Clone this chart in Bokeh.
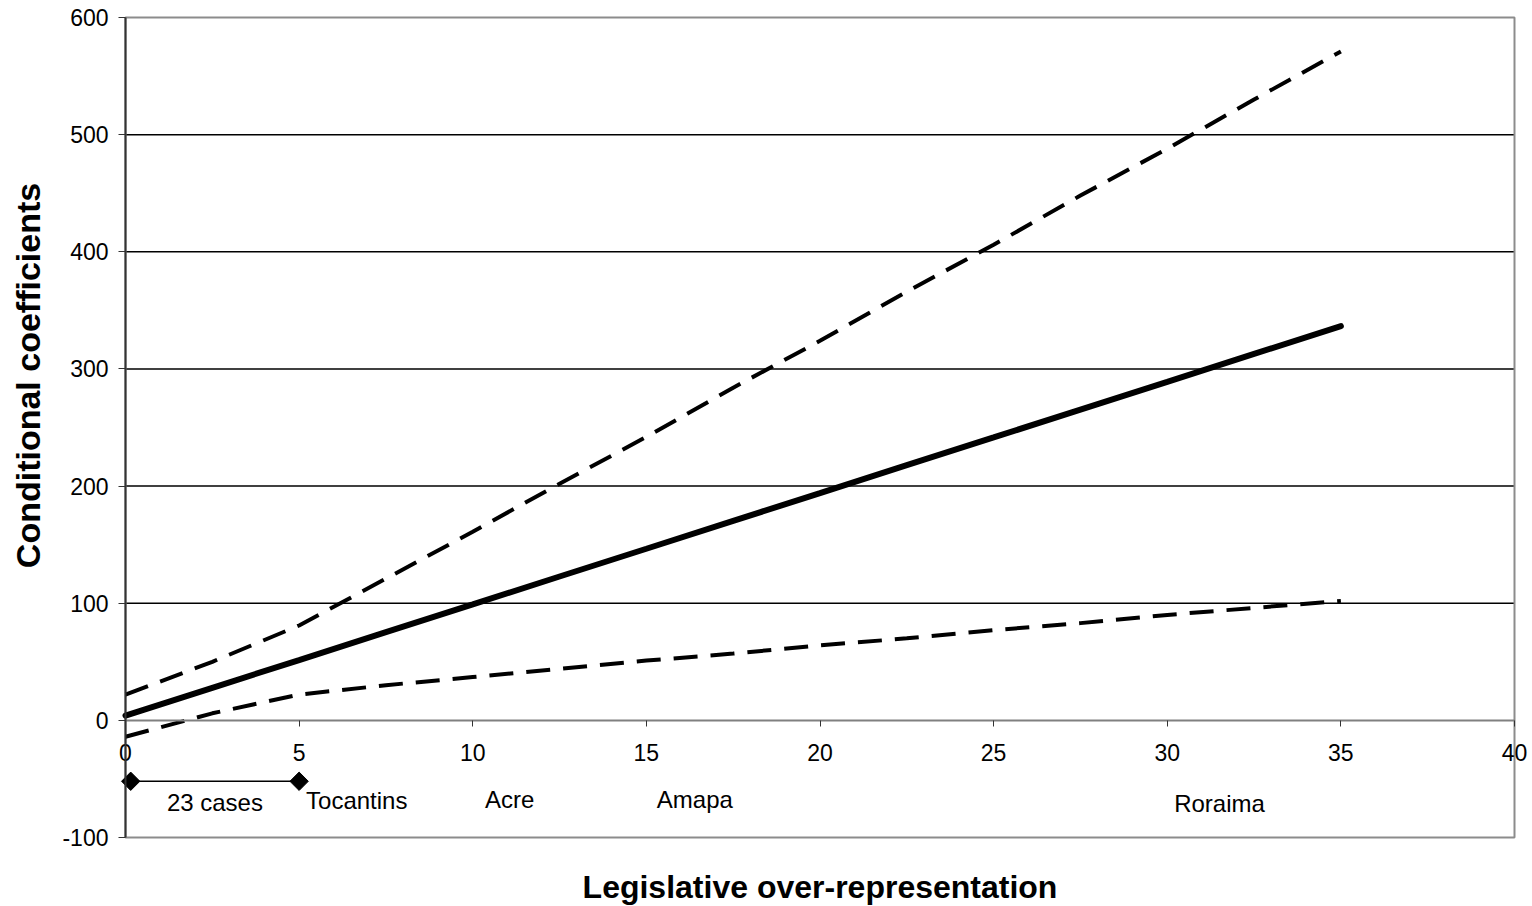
import math
from bokeh.plotting import figure
from bokeh.models import Range1d, LinearAxis, FixedTicker, PrintfTickFormatter
from bokeh.core.properties import value
from bokeh.embed import file_html
from bokeh.resources import INLINE

# Conditional coefficient of the interaction and its 95% confidence band
over_rep = [0, 2.5, 5, 7.5, 10, 12.5, 15, 17.5, 20, 22.5, 25, 27.5, 30, 32.5, 35]
coef = [4, 27.8, 51.5, 75.3, 99, 122.8, 146.5, 170.3, 194, 217.8, 241.5, 265.3, 289, 312.8, 336.5]
lower = [-14, 6, 22, 30, 37, 44, 51, 57, 64, 70, 77, 83, 90, 96, 102]
upper = [22, 50, 81, 121, 161, 202, 242, 284, 324, 366, 406, 448, 488, 530, 571]

# Range of the 23 ordinary states and the outlier states
cases_x = [0.15, 5.0]
cases_y = [-52, -52]
cases_label = "23 cases"
states = ["Tocantins", "Acre", "Amapa", "Roraima"]
states_x = [5.2, 10.35, 15.3, 30.2]
states_y = [-68, -67.5, -67.5, -71]

x_ticks = [0, 5, 10, 15, 20, 25, 30, 35, 40]
y_ticks = [-100, 0, 100, 200, 300, 400, 500, 600]
grid_ticks = [100, 200, 300, 400, 500]
X_MIN, X_MAX = 0, 40
Y_MIN, Y_MAX = -100, 600

FONT = "Liberation Sans"

# The frame covers the whole canvas so that both axes can cross inside it;
# the plotting area proper is the box [0, 40] x [-100, 600].
W, H = 1532, 906
AREA_L, AREA_R, AREA_T, AREA_B = 125, 1514, 17, 837
sx = (AREA_R - AREA_L) / (X_MAX - X_MIN)
sy = (AREA_B - AREA_T) / (Y_MAX - Y_MIN)
x_range = Range1d(X_MIN - AREA_L / sx, X_MAX + (W - AREA_R) / sx)
y_range = Range1d(Y_MIN - (H - AREA_B) / sy, Y_MAX + AREA_T / sy)

p = figure(width=W, height=H, output_backend="svg", toolbar_location=None,
           x_range=x_range, y_range=y_range, min_border=0,
           x_axis_type=None, y_axis_type=None)
p.background_fill_color = "white"
p.border_fill_color = "white"
p.outline_line_color = None
p.xgrid.visible = False
p.ygrid.visible = False

# horizontal gridlines inside the plotting area
p.segment(x0=[X_MIN] * len(grid_ticks), x1=[X_MAX] * len(grid_ticks),
          y0=grid_ticks, y1=grid_ticks, line_color="black", line_width=1.5)

# plotting area border
p.quad(left=[X_MIN], right=[X_MAX], bottom=[Y_MIN], top=[Y_MAX],
       fill_color=None, line_color="#8c8c8c", line_width=2)

# value axis at x = 0
yaxis = LinearAxis(ticker=FixedTicker(ticks=y_ticks), fixed_location=0,
                   bounds=(Y_MIN, Y_MAX), formatter=PrintfTickFormatter(format="%d"))
yaxis.axis_line_color = "#333333"
yaxis.axis_line_width = 2
yaxis.major_tick_line_color = "#333333"
yaxis.major_tick_line_width = 1
yaxis.major_tick_in = 0
yaxis.major_tick_out = 7
yaxis.minor_tick_line_color = None
yaxis.major_label_standoff = 10
yaxis.major_label_text_font = FONT
yaxis.major_label_text_font_size = "23px"
yaxis.major_label_text_color = "black"
p.add_layout(yaxis, "left")

# category axis crossing at zero
xaxis = LinearAxis(ticker=FixedTicker(ticks=x_ticks), fixed_location=0,
                   bounds=(X_MIN, X_MAX), formatter=PrintfTickFormatter(format="%d"))
xaxis.axis_line_color = "#808080"
xaxis.axis_line_width = 2
xaxis.major_tick_line_color = "#333333"
xaxis.major_tick_line_width = 1
xaxis.major_tick_in = 0
xaxis.major_tick_out = 6
xaxis.minor_tick_line_color = None
xaxis.major_label_standoff = 18
xaxis.major_label_text_font = FONT
xaxis.major_label_text_font_size = "23px"
xaxis.major_label_text_color = "black"
p.add_layout(xaxis, "below")

# confidence band and estimate
p.line(over_rep, upper, line_color="black", line_width=4, line_dash="24 13")
p.line(over_rep, lower, line_color="black", line_width=4, line_dash="24 13")
p.line(over_rep, coef, line_color="black", line_width=6, line_cap="round")

# bracket marking the 23 ordinary cases
p.line(cases_x, cases_y, line_color="black", line_width=1.5)
p.scatter(cases_x, cases_y, marker="square", angle=math.pi / 4, size=13,
          fill_color="black", line_color="black")
p.text(x=[(cases_x[0] + cases_x[1]) / 2], y=[-70], text=[cases_label],
       text_font=value(FONT), text_font_size="24px", text_align="center",
       text_baseline="middle", text_color="black")
p.text(x=states_x, y=states_y, text=states, text_font=value(FONT),
       text_font_size="24px", text_align="left", text_baseline="middle",
       text_color="black")

# axis titles
p.text(x=[(X_MIN + X_MAX) / 2], y=[Y_MAX - (886 - AREA_T) / sy],
       text=["Legislative over-representation"], text_font=value(FONT),
       text_font_size="32px", text_font_style="bold", text_align="center",
       text_baseline="middle", text_color="black")
p.text(x=[X_MIN - (AREA_L - 27) / sx], y=[Y_MAX - (375 - AREA_T) / sy],
       text=["Conditional coefficients"], angle=math.pi / 2,
       text_font=value(FONT), text_font_size="34px", text_font_style="bold",
       text_align="center", text_baseline="middle", text_color="black")

open("out.html", "w").write(file_html(p, INLINE))
